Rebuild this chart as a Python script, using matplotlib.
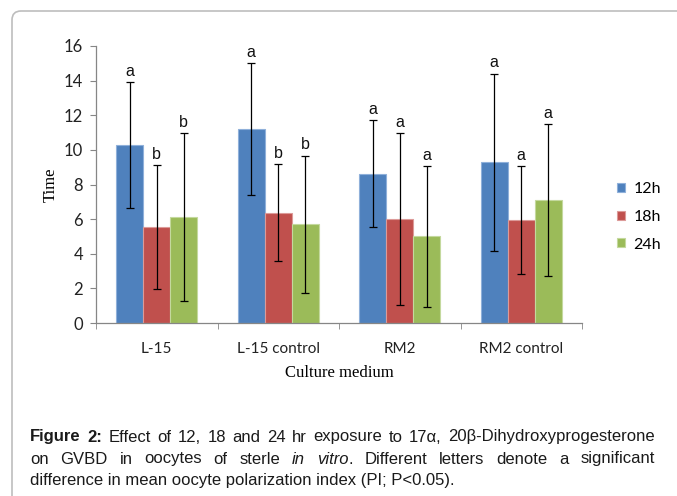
import matplotlib
matplotlib.use("Agg")
import matplotlib.pyplot as plt
import numpy as np
from matplotlib.patches import FancyBboxPatch
from matplotlib.transforms import IdentityTransform

categories = ["L-15", "L-15 control", "RM2", "RM2 control"]
series = ["12h", "18h", "24h"]
means = {
    "12h": [10.28, 11.20, 8.61, 9.28],
    "18h": [5.54, 6.38, 6.00, 5.94],
    "24h": [6.11, 5.69, 5.00, 7.11],
}
errors = {
    "12h": [3.63, 3.80, 3.09, 5.12],
    "18h": [3.57, 2.78, 4.95, 3.12],
    "24h": [4.86, 3.97, 4.07, 4.38],
}
letters = {
    "12h": ["a", "a", "a", "a"],
    "18h": ["b", "b", "a", "a"],
    "24h": ["b", "b", "a", "a"],
}
colors = ["#4F81BD", "#C0504D", "#9BBB59"]
edges = ["#8FB0DA", "#DC9A98", "#C4D99E"]

cap_font = "Liberation Sans"
tick_font = "Lato"
serif_font = "Liberation Serif"

W, H = 677, 496
fig = plt.figure(figsize=(W / 100, H / 100), dpi=100)
ax = fig.add_axes([96 / W, 1 - 323 / H, 486 / W, 277 / H])

x = np.arange(len(categories))
w = 0.222
for j, s in enumerate(series):
    pos = x + (j - 1) * w
    ax.bar(pos, means[s], width=w, color=colors[j], edgecolor=edges[j],
           linewidth=0.8, label=s, zorder=2)
    ax.errorbar(pos, means[s], yerr=errors[s], fmt="none", ecolor="black",
                elinewidth=0.9, capsize=3, capthick=0.9, zorder=3)
    for p, m, e, l in zip(pos, means[s], errors[s], letters[s]):
        ax.annotate(l, (p, m + e), xytext=(0, 2.5), textcoords="offset points",
                    ha="center", va="bottom", fontsize=11.5,
                    family="Liberation Sans", color="#111111")

ax.set_xlim(-0.5, len(categories) - 0.5)
ax.set_ylim(0, 16)
ax.set_yticks(np.arange(0, 17, 2))
ax.set_xticks(x)
ax.set_xticklabels(categories)
ax.set_xticks(np.arange(-0.5, len(categories)), minor=True)
ax.tick_params(axis="x", which="major", length=0, pad=14)
ax.tick_params(axis="x", which="minor", length=4.5, color="#868686")
ax.tick_params(axis="y", length=4.3, color="#868686", pad=5)
for lab in ax.get_xticklabels():
    lab.set_family(tick_font)
    lab.set_fontsize(11)
    lab.set_color("#222222")
for lab in ax.get_yticklabels():
    lab.set_family(tick_font)
    lab.set_fontsize(12)
    lab.set_color("#222222")
for sp in ["top", "right"]:
    ax.spines[sp].set_visible(False)
for sp in ["left", "bottom"]:
    ax.spines[sp].set_color("#868686")
    ax.spines[sp].set_linewidth(0.9)

ax.set_ylabel("Time", family=serif_font, fontsize=12, labelpad=4)
ax.set_xlabel("Culture medium", family=serif_font, fontsize=12, labelpad=6)

leg = fig.legend(loc="upper left", bbox_to_anchor=(603 / W, 1 - 168 / H),
                 frameon=False, handlelength=0.5, handleheight=0.5,
                 handletextpad=0.5, labelspacing=0.85,
                 prop={"family": tick_font, "size": 11.5})

border = FancyBboxPatch((12, -30), 720, H - 11 + 30,
                        boxstyle="round,pad=0,rounding_size=9",
                        transform=IdentityTransform(), fill=False,
                        edgecolor="#BDBDBD", linewidth=1.2)
fig.patches.append(border)

# caption, justified by hand
lines = [
    [("Figure", "bold"), ("2:", "bold"), ("Effect", None), ("of", None), ("12,", None),
     ("18", None), ("and", None), ("24", None), ("hr", None), ("exposure", None),
     ("to", None), ("17α,", None), ("20β-Dihydroxyprogesterone", None)],
    [("on", None), ("GVBD", None), ("in", None), ("oocytes", None), ("of", None),
     ("sterle", None), ("in", "italic"), ("vitro", "italic"), (".", None),
     ("Different", None), ("letters", None), ("denote", None), ("a", None),
     ("significant", None)],
    [("difference in mean oocyte polarization index (PI; P<0.05).", None)],
]
left, right = 30, 655
ys = [437, 459, 480]
renderer = fig.canvas.get_renderer()
for li, (line, yy) in enumerate(zip(lines, ys)):
    objs = []
    for word, style in line:
        kw = dict(family=cap_font, fontsize=12, color="#1a1a1a", va="center", ha="left")
        if style == "bold":
            kw["fontweight"] = "bold"
        if style == "italic":
            kw["fontstyle"] = "italic"
        objs.append(fig.text(0, 1 - yy / H, word, **kw))
    widths = [o.get_window_extent(renderer).width for o in objs]
    if li < len(lines) - 1:
        gaps = len(objs) - 1 - sum(1 for wd, _ in line if wd == ".")
        gap = (right - left - sum(widths)) / gaps
    else:
        gap = 0
    cx = left
    for i, o in enumerate(objs):
        if i > 0 and line[i][0] != ".":
            cx += gap
        o.set_x(cx / W)
        cx += widths[i]

fig.savefig("out.png", dpi=100)
